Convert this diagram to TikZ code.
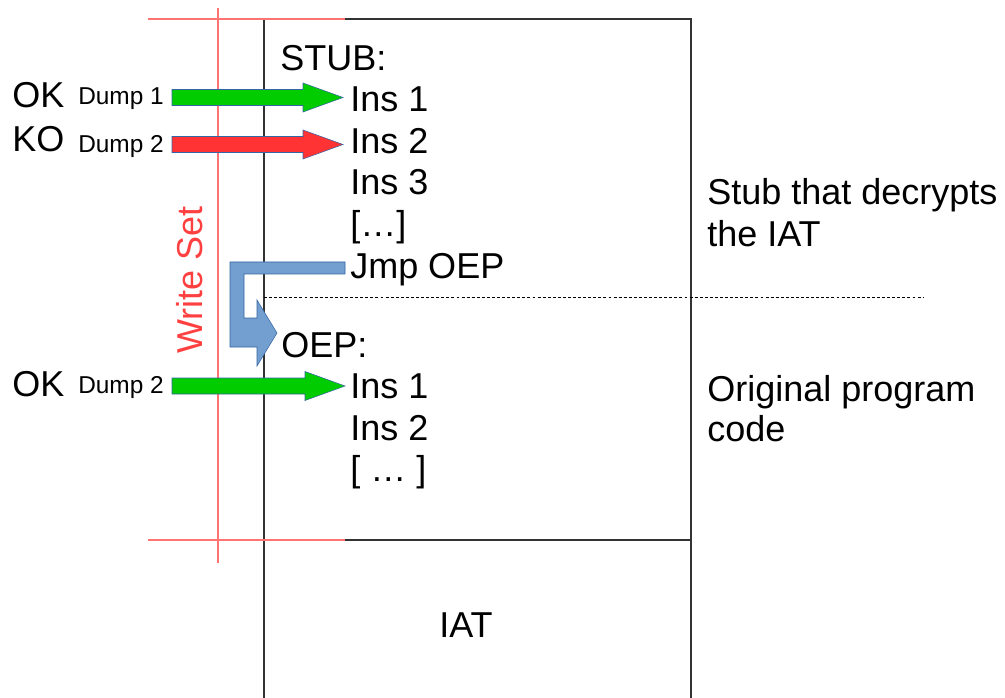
\documentclass[tikz,border=0pt]{standalone}
\usepackage{fontspec}
\setmainfont{Liberation Sans}
\begin{document}
\begin{tikzpicture}[x=0.75pt,y=-0.75pt,
  txt/.style={inner sep=0pt,anchor=base west,font=\fontsize{27}{30}\selectfont},
  small/.style={inner sep=0pt,anchor=base west,font=\fontsize{18.3}{20}\selectfont},
  boxline/.style={draw=black!80,line width=1.1pt},
  redline/.style={draw=red!55,line width=1.1pt},
  blockarr/.style={draw=blue!45!black!70,line width=0.4pt,line join=miter}]
\useasboundingbox (0,0) rectangle (1005,698);
\definecolor{arrgreen}{HTML}{00CC00}
\definecolor{arrred}{HTML}{FF3333}
\definecolor{arrblue}{HTML}{729FCF}
\definecolor{arredge}{HTML}{3465A4}
\definecolor{wsred}{HTML}{FF4040}
% box
\draw[boxline] (264,698) -- (264,19) -- (691,19) -- (691,698);
\draw[boxline] (264,540) -- (691,540);
% dashed separator
\draw[black,line width=0.6pt,dash pattern=on 2.2pt off 1.6pt] (264,297) -- (923,297);
% write set lines
\draw[redline] (148,19) -- (345,19);
\draw[redline] (148,540) -- (345,540);
\draw[redline] (218,8) -- (218,563);
\node[inner sep=0pt,anchor=base,rotate=90,text=wsred,font=\fontsize{27}{30}\selectfont] (ws) at (202,280) {Write Set};
% code texts
\node[txt] (stub) at (280,71) {STUB:};
\node[txt] (i1) at (350,112) {Ins 1};
\node[txt] (i2) at (350,153.5) {Ins 2};
\node[txt] (i3) at (350,195) {Ins 3};
\node[txt] (dots1) at (350,236.5) {[…]};
\node[txt] (jmp) at (350,278) {Jmp OEP};
\node[txt] (oep) at (281,357) {OEP:};
\node[txt] (o1) at (350,398) {Ins 1};
\node[txt] (o2) at (350,440) {Ins 2};
\node[txt] (dots2) at (350,481) {[ … ]};
% right descriptions
\node[txt] (d1) at (707,205) {Stub that decrypts};
\node[txt] (d2) at (707,247) {the IAT};
\node[txt] (d3) at (707,401) {Original program};
\node[txt] (d4) at (707,441) {code};
\node[txt,anchor=base] (iat) at (466,637) {IAT};
% left labels
\node[txt] (ok1) at (12,108) {OK};
\node[small] (dmp1) at (78,105) {Dump 1};
\node[txt] (ko) at (12,152) {KO};
\node[small] (dmp2) at (78,153) {Dump 2};
\node[txt] (ok2) at (12,396) {OK};
\node[small] (dmp3) at (78,393) {Dump 2};
% block arrows
\newcommand{\blockarrow}[5]{%
  \filldraw[blockarr,draw=arredge,fill=#1]
   (#2,#5-8) -- (#3,#5-8) -- (#3,#5-14.5) -- (#4,#5) -- (#3,#5+14.5) -- (#3,#5+8) -- (#2,#5+8) -- cycle;}
\blockarrow{arrgreen}{172}{303}{343}{97.5}
\blockarrow{arrred}{172}{303}{343}{144.5}
\blockarrow{arrgreen}{172}{305}{345}{386}
% bent jump arrow
\filldraw[blockarr,draw=arredge,fill=arrblue]
 (230,262) -- (345,262) -- (345,274) -- (244,274) -- (244,318) -- (257,318)
 -- (257,300) -- (277,333) -- (257,366) -- (257,347) -- (230,347) -- cycle;
\end{tikzpicture}
\end{document}
